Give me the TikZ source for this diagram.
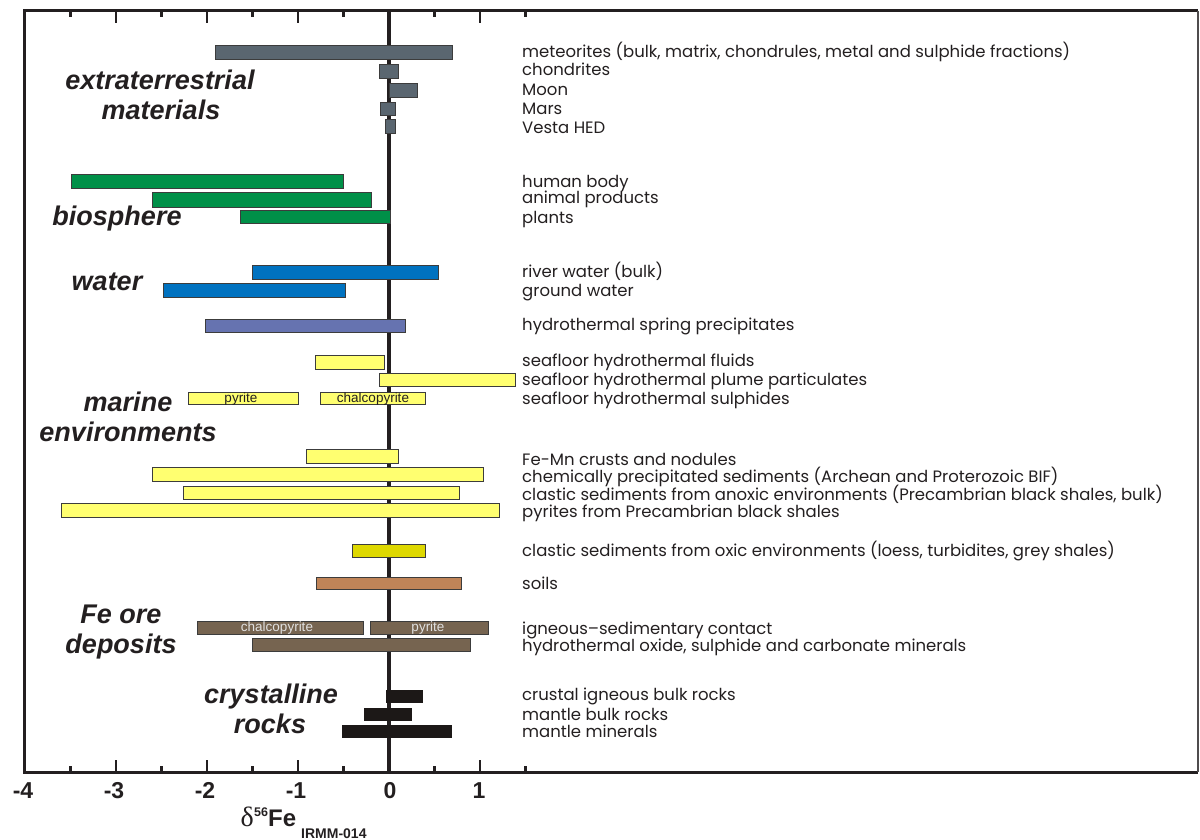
\documentclass[tikz,border=0pt]{standalone}
\usepackage{fontspec}
\newfontfamily\labfont{Poppins}
\newfontfamily\arialf{Liberation Sans}
\newfontfamily\timesf{Liberation Serif}
\definecolor{ink}{RGB}{35,31,32}
\definecolor{outl}{RGB}{60,60,60}
\definecolor{cmet}{RGB}{90,102,112}
\definecolor{cbio}{RGB}{0,144,72}
\definecolor{cwat}{RGB}{0,114,192}
\definecolor{cspr}{RGB}{102,115,176}
\definecolor{cyel}{RGB}{255,255,112}
\definecolor{coxi}{RGB}{222,216,0}
\definecolor{csoi}{RGB}{192,132,88}
\definecolor{core}{RGB}{118,100,80}
\definecolor{crck}{RGB}{28,24,23}
\newcommand{\drawbar}[5]{\path[barbox,fill=#1] (#2,#4) rectangle (#3,#5);}
\begin{document}
\begin{tikzpicture}[x=1pt,y=-1pt,
  barbox/.style={draw=outl,line width=0.8pt},
  lab/.style={anchor=base west,inner sep=0pt,text=ink,font=\labfont\fontsize{16.5}{16.5}\selectfont},
  cat/.style={anchor=base,inner sep=0pt,text=ink,font=\arialf\bfseries\itshape\fontsize{27}{27}\selectfont},
  num/.style={anchor=base,inner sep=0pt,text=ink,font=\arialf\bfseries\fontsize{23}{23}\selectfont},
  inbar/.style={anchor=base,inner sep=0pt,font=\arialf\fontsize{13.5}{13.5}\selectfont},
  frameline/.style={draw=ink,line width=3pt},
  tickline/.style={draw=ink,line width=2.5pt}]
\useasboundingbox (0,0) rectangle (1200,840);
% frame and zero line
\draw[frameline] (1198,11) -- (24,11) -- (24,772) -- (1198,772);
\draw[draw=ink!80,line width=1.2pt] (1198,11) -- (1198,772);
\draw[draw=ink,line width=3.5pt] (389,11) -- (389,772);
% ticks
\foreach \v in {-3,-2,-1,1} {
  \draw[tickline] ({389+91*\v},11) -- ({389+91*\v},23);
  \draw[tickline] ({389+91*\v},772) -- ({389+91*\v},760);
}
\foreach \v in {-3.5,-2.5,-1.5,-0.5,0.5,1.5} {
  \draw[tickline] ({389+91*\v},11) -- ({389+91*\v},17);
  \draw[tickline] ({389+91*\v},772) -- ({389+91*\v},766);
}
% axis numbers
\node[num] (nm4) at (23,798) {-4};
\node[num] (nm3) at (114,798) {-3};
\node[num] (nm2) at (205,798) {-2};
\node[num] (nm1) at (296,798) {-1};
\node[num] (n0) at (390,798) {0};
\node[num] (n1) at (479,798) {1};
% axis title
\node[anchor=base east,inner sep=0pt,text=ink,font=\timesf\fontsize{28}{28}\selectfont] (delta) at (254,826) {δ};
\node[anchor=base west,inner sep=0pt,text=ink,font=\arialf\bfseries\fontsize{12.5}{12.5}\selectfont] (sup) at (254,816) {56};
\node[anchor=base west,inner sep=0pt,text=ink,font=\arialf\bfseries\fontsize{24}{24}\selectfont] (fe) at (268,826) {Fe};
\node[anchor=base west,inner sep=0pt,text=ink,font=\arialf\bfseries\fontsize{14}{14}\selectfont] (sub) at (301,838.5) {IRMM-014};
% bars: extraterrestrial
\drawbar{cmet}{215}{452}{45}{59}
\drawbar{cmet}{379}{398}{64}{78}
\drawbar{cmet}{389}{417}{83}{97}
\drawbar{cmet}{380}{395}{102}{115}
\drawbar{cmet}{385}{395}{119}{133}
% biosphere
\drawbar{cbio}{71}{343}{174}{188}
\drawbar{cbio}{152}{371}{192}{207}
\drawbar{cbio}{240}{390}{210}{223}
% water
\drawbar{cwat}{252}{438}{265}{279}
\drawbar{cwat}{163}{345}{283}{297}
\drawbar{cspr}{205}{405}{319}{332}
% marine
\drawbar{cyel}{315}{384}{355}{369}
\drawbar{cyel}{379}{515}{373}{386}
\drawbar{cyel}{188}{298}{392}{404}
\drawbar{cyel}{320}{425}{392}{404}
\drawbar{cyel}{306}{398}{449}{463}
\drawbar{cyel}{152}{483}{467}{481}
\drawbar{cyel}{183}{459}{486}{499}
\drawbar{cyel}{61}{499}{503}{517}
\drawbar{coxi}{352}{425}{544}{557}
\drawbar{csoi}{316}{461}{577}{589}
% ore
\drawbar{core}{197}{363}{621}{634}
\drawbar{core}{370}{488}{621}{634}
\drawbar{core}{252}{470}{638}{651}
% crystalline
\path[fill=crck] (386,690) rectangle (423,703);
\path[fill=crck] (364,708) rectangle (412,721);
\path[fill=crck] (342,725) rectangle (452,738);
% in-bar labels
\node[inbar,text=ink] (py1) at (241,402) {pyrite};
\node[inbar,text=ink] (cp1) at (373,402) {chalcopyrite};
\node[inbar,text=white!88!black] (cp2) at (277,631.5) {chalcopyrite};
\node[inbar,text=white!88!black] (py2) at (428,631.5) {pyrite};
% category labels
\node[cat] (c1a) at (160,90) {extraterrestrial};
\node[cat] (c1b) at (161,120) {materials};
\node[cat] (c2) at (117,225) {biosphere};
\node[cat] (c3) at (107,290.5) {water};
\node[cat] (c4a) at (128,411.5) {marine};
\node[cat] (c4b) at (128,441.5) {environments};
\node[cat] (c5a) at (121,623) {Fe ore};
\node[cat] (c5b) at (121,653) {deposits};
\node[cat] (c6a) at (271,703) {crystalline};
\node[cat] (c6b) at (270,733) {rocks};
% right labels
\node[lab] (l1) at (522,58) {meteorites (bulk, matrix, chondrules, metal and sulphide fractions)};
\node[lab] (l2) at (522,76) {chondrites};
\node[lab] (l3) at (522,96) {Moon};
\node[lab] (l4) at (522,115) {Mars};
\node[lab] (l5) at (522,134) {Vesta HED};
\node[lab] (l6) at (522,188) {human body};
\node[lab] (l7) at (522,204) {animal products};
\node[lab] (l8) at (522,223) {plants};
\node[lab] (l9) at (522,277) {river water (bulk)};
\node[lab] (l10) at (522,296) {ground water};
\node[lab] (l11) at (522,330) {hydrothermal spring precipitates};
\node[lab] (l12) at (522,366) {seafloor hydrothermal fluids};
\node[lab] (l13) at (522,385) {seafloor hydrothermal plume particulates};
\node[lab] (l14) at (522,404) {seafloor hydrothermal sulphides};
\node[lab] (l15) at (522,465) {Fe-Mn crusts and nodules};
\node[lab] (l16) at (522,482) {chemically precipitated sediments (Archean and Proterozoic BIF)};
\node[lab] (l17) at (522,500) {clastic sediments from anoxic environments (Precambrian black shales, bulk)};
\node[lab] (l18) at (522,517) {pyrites from Precambrian black shales};
\node[lab] (l19) at (522,556) {clastic sediments from oxic environments (loess, turbidites, grey shales)};
\node[lab] (l20) at (522,589) {soils};
\node[lab] (l21) at (522,634) {igneous–sedimentary contact};
\node[lab] (l22) at (522,651) {hydrothermal oxide, sulphide and carbonate minerals};
\node[lab] (l23) at (522,700) {crustal igneous bulk rocks};
\node[lab] (l24) at (522,720) {mantle bulk rocks};
\node[lab] (l25) at (522,737) {mantle minerals};
\end{tikzpicture}
\end{document}
